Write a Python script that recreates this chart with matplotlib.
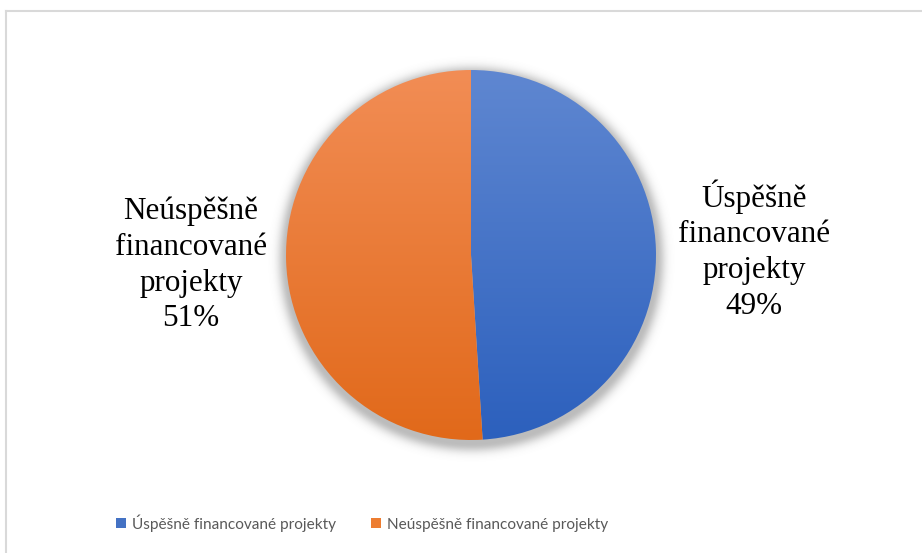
import numpy as np
import matplotlib
matplotlib.use("Agg")
import matplotlib.pyplot as plt
from matplotlib.patches import Patch
from matplotlib.lines import Line2D
from matplotlib.colors import to_rgb
from matplotlib.font_manager import FontProperties

# Data
categories = ["Úspěšně financované projekty", "Neúspěšně financované projekty"]
shares = [49, 51]

# Style
W, H = 922, 553
grad_top = ["#5F87D1", "#F28D55"]
grad_bottom = ["#2C60BD", "#E1691A"]
legend_colors = ["#4472C4", "#ED7D31"]

fig = plt.figure(figsize=(W / 100, H / 100), dpi=100)
fig.patch.set_facecolor("white")
ax = fig.add_axes([0, 0, 1, 1])

cx, cy, r = 471, H - 255, 185

# Soft drop shadow behind the pie
sx, sy = cx, cy - 4
pad = 30
xs = np.arange(sx - r - pad, sx + r + pad)
ys = np.arange(sy - r - pad, sy + r + pad)
XX, YY = np.meshgrid(xs, ys)
d = np.hypot(XX - sx, YY - sy)
outside = np.clip(d - r, 0, None)
alpha = 0.45 * np.exp(-(outside ** 2) / (2 * 6 ** 2))
shadow = np.zeros(XX.shape + (4,))
shadow[..., :3] = 0.42
shadow[..., 3] = alpha
ax.imshow(shadow, extent=(xs[0], xs[-1], ys[0], ys[-1]), origin="lower",
          zorder=1, interpolation="bilinear")

wedges, _ = ax.pie(shares, startangle=90, counterclock=False,
                   center=(cx, cy), radius=r, frame=True)

# Vertical gradient fill for each slice
n = 256
t = np.linspace(0, 1, n)[:, None]
for w, top, bot in zip(wedges, grad_top, grad_bottom):
    c0 = np.array(to_rgb(top))
    c1 = np.array(to_rgb(bot))
    img = (c1[None, :] * (1 - t) + c0[None, :] * t)[:, None, :]
    img = np.repeat(img, 2, axis=1)
    w.set_facecolor("none")
    w.set_edgecolor("none")
    im = ax.imshow(img, extent=(cx - r, cx + r, cy - r, cy + r),
                   origin="lower", aspect="auto", zorder=2,
                   interpolation="bilinear")
    im.set_clip_path(w)

ax.set_xlim(0, W)
ax.set_ylim(0, H)
ax.set_aspect("auto")
ax.axis("off")

# Slice labels
serif_fp = FontProperties(family="Liberation Serif", size=22.4)
label_pos = [(754, H - 250), (191, H - 265)]
for cat, val, (lx, ly) in zip(categories, shares, label_pos):
    words = cat.split(" ")
    txt = "\n".join(words) + f"\n{val}%"
    ax.text(lx, ly, txt, ha="center", va="center", fontproperties=serif_fp,
            color="#000000", linespacing=1.3, zorder=5)

# Outer frame (top and left edges)
fig.add_artist(Line2D([6 / W, 921 / W], [1 - 11 / H, 1 - 11 / H],
                      transform=fig.transFigure, color="#D9D9D9", lw=1.5))
fig.add_artist(Line2D([6 / W, 6 / W], [1 - 11 / H, 0],
                      transform=fig.transFigure, color="#D9D9D9", lw=1.5))

# Legend
handles = [Patch(facecolor=c, edgecolor="none") for c in legend_colors]
leg = fig.legend(handles, categories, loc="center",
                 bbox_to_anchor=(362 / W, 1 - 523 / H), ncol=2,
                 frameon=False, handlelength=0.65, handleheight=0.65,
                 handletextpad=0.35, columnspacing=2.3,
                 prop=FontProperties(family="Lato", size=11.1))
for t_ in leg.get_texts():
    t_.set_color("#595959")

fig.savefig("out.png", dpi=100)
